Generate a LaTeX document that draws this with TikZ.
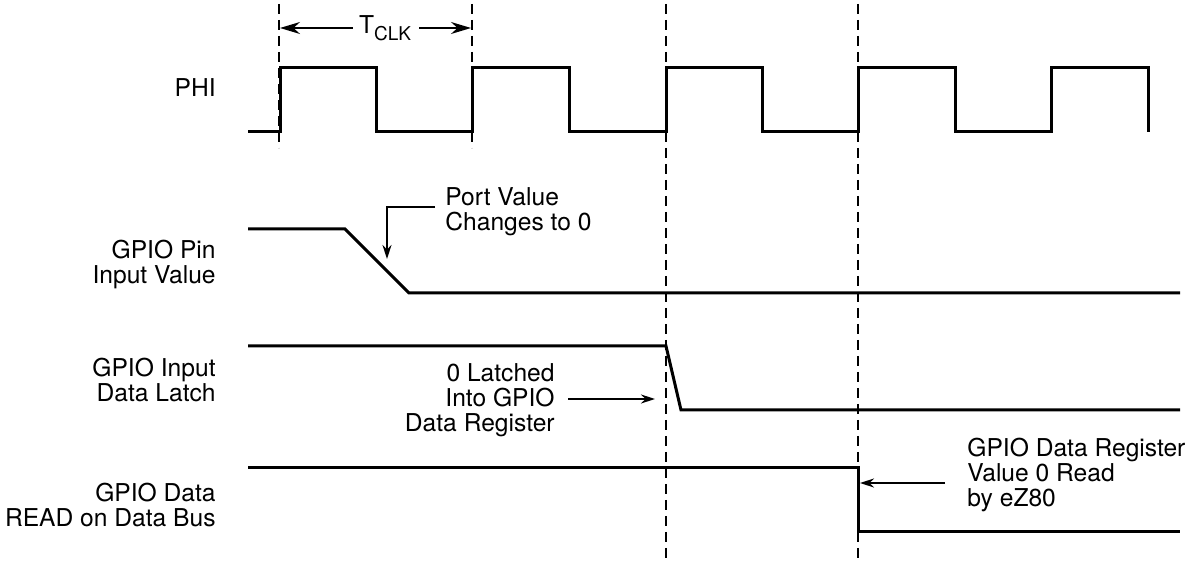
\documentclass[tikz,border=0pt]{standalone}
\usepackage{fontspec}
\setmainfont{TeX Gyre Heros}
\usepackage{tikz}
\usetikzlibrary{arrows.meta,calc,positioning}
\tikzset{wave/.style={line width=1.5pt},
  edge/.style={line width=0.9pt,dash pattern=on 5pt off 3pt},
  sig/.style={align=right,inner sep=0pt,anchor=base east},
  note/.style={inner sep=0pt},
  ptr/.style={line width=0.8pt,-{Stealth[length=7pt,width=4.5pt]}}}

\begin{document}
\begin{tikzpicture}[x=0.5pt,y=-0.5pt,line join=miter,font=\fontsize{12.3}{12.5}\selectfont]
\useasboundingbox (0,0) rectangle (1191,561);
% --- clock edges
\draw[edge] (279,4) -- (279,148); \draw[edge] (472,4) -- (472,148);
\draw[edge] (666,4) -- (666,560); \draw[edge] (858,4) -- (858,560);
\node[note] (tclk) at (385,28) {T\raisebox{-0.55ex}{\fontsize{9.5}{10}\selectfont CLK}};
\coordinate (tl) at (280,28); \coordinate (tr) at (471,28);
\draw[line width=0.8pt,-{Stealth[length=10pt,width=6pt]}] ([xshift=-3pt]tclk.west) -- (tl);
\draw[line width=0.8pt,-{Stealth[length=10pt,width=6pt]}] ([xshift=4pt]tclk.east) -- (tr);
% --- PHI
\node[sig] (phi) at (216,97) {PHI};
\draw[wave] (248,132) -- (280,132) -- (280,68) -- (376,68) -- (376,132) -- (472,132) -- (472,68)
  -- (569,68) -- (569,132) -- (666,132) -- (666,68) -- (762,68) -- (762,132) -- (858,132)
  -- (858,68) -- (955,68) -- (955,132) -- (1051,132) -- (1051,68) -- (1148,68) -- (1148,132);
% --- pin value
\node[sig] (pin) at (216,284) {GPIO Pin\\Input Value};
\draw[wave] (248,229) -- (345,229) -- (409,293) -- (1180,293);
\node[note,align=left,anchor=base west] (pv) at (445,231) {Port Value\\Changes to 0};
\coordinate (pvtip) at (387,259);
\draw[ptr] (pv.base west) ++(-10,-24) -| (pvtip);
% --- input latch
\node[sig] (latch) at (216,402) {GPIO Input\\Data Latch};
\draw[wave] (248,346) -- (666,346) -- (681,410) -- (1180,410);
\node[sig] (lat) at (555,432) {0 Latched\\Into GPIO\\Data Register};
\coordinate (lattip) at (655,399);
\draw[ptr] (lat.east |- lattip) ++(13,0) -- (lattip);
% --- data read
\node[sig] (rdbus) at (216,527) {GPIO Data\\READ on Data Bus};
\draw[wave] (248,468) -- (858,468) -- (858,532) -- (1180,532);
\node[note,align=left,anchor=base west] (rd) at (967,507) {GPIO Data Register\\Value 0 Read\\by eZ80};
\coordinate (rdtip) at (860,483);
\draw[ptr] ($(rd.west |- rdtip)+(-22,0)$) -- (rdtip);
\end{tikzpicture}
\end{document}
